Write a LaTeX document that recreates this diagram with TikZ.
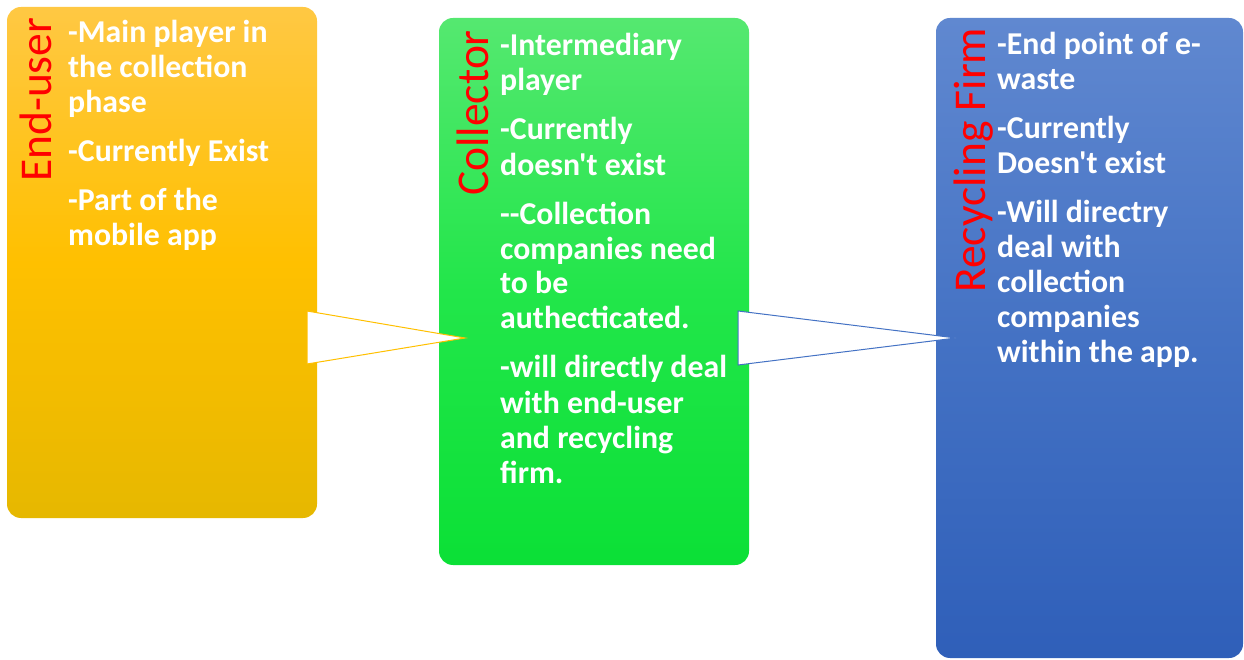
\documentclass[tikz,border=0pt]{standalone}
\usepackage{fontspec}
\setmainfont{Carlito}[Ligatures=TeXOff]
\definecolor{ytop}{HTML}{FFC843}
\definecolor{ymid}{HTML}{FFC000}
\definecolor{ybot}{HTML}{E6B800}
\definecolor{gtop}{HTML}{55E870}
\definecolor{gmid}{HTML}{22E64A}
\definecolor{gbot}{HTML}{0BE036}
\definecolor{btop}{HTML}{6088D0}
\definecolor{bmid}{HTML}{4472C4}
\definecolor{bbot}{HTML}{2F5FB9}
\definecolor{aorange}{HTML}{FFC000}
\definecolor{ablue}{HTML}{4472C4}
\begin{document}
\begin{tikzpicture}[x=1pt,y=1pt,
  box/.style={rectangle, rounded corners=14pt, inner sep=0pt, draw=none},
  body/.style={anchor=base west, inner sep=0pt, align=left, text=white,
    font=\fontsize{31.8}{35}\selectfont\bfseries},
  role/.style={anchor=base west, inner sep=0pt, rotate=90, text=red,
    font=\fontsize{45.5}{50}\selectfont},
  pointer/.style={fill=white, line width=1pt, line join=miter}]
\useasboundingbox (0,0) rectangle (1244,659);
% boxes
\node[box, minimum width=310pt, minimum height=511pt,
  top color=ytop, bottom color=ybot, middle color=ymid] (enduser) at (162,396.5) {};
\node[box, minimum width=310pt, minimum height=547pt,
  top color=gtop, bottom color=gbot, middle color=gmid] (collector) at (594,367.5) {};
\node[box, minimum width=307pt, minimum height=640pt,
  top color=btop, bottom color=bbot, middle color=bmid] (recycler) at (1089.5,321) {};
% pointers
\coordinate (t1a) at (307,348);
\coordinate (t1b) at (307,295);
\coordinate (t1c) at (465,321);
\coordinate (t2a) at (738,348);
\coordinate (t2b) at (738,294);
\coordinate (t2c) at (956,321);
\draw[pointer, draw=aorange] (t1a) -- (t1c) -- (t1b) -- cycle;
\draw[pointer, draw=ablue] (t2a) -- (t2c) -- (t2b) -- cycle;
% labels
\node[role] (lab1) at (51,477) {End-user};
\node[role] (lab2) at (488,463) {Collector};
\node[role] (lab3) at (985,366) {Recycling Firm};
% texts (anchored at the baseline of the last line)
\node[body] (txt1) at (68,413) {-Main player in\\the collection\\phase\\[14pt]-Currently Exist\\[14pt]-Part of the\\mobile app};
\node[body] (txt2) at (500,176) {-Intermediary\\player\\[14pt]-Currently\\doesn't exist\\[14pt]--Collection\\companies need\\to be\\authecticated.\\[14pt]-will directly deal\\with end-user\\and recycling\\firm.};
\node[body] (txt3) at (997,296) {-End point of e-\\waste\\[14pt]-Currently\\Doesn't exist\\[14pt]-Will directry\\deal with\\collection\\companies\\within the app.};
\end{tikzpicture}
\end{document}
